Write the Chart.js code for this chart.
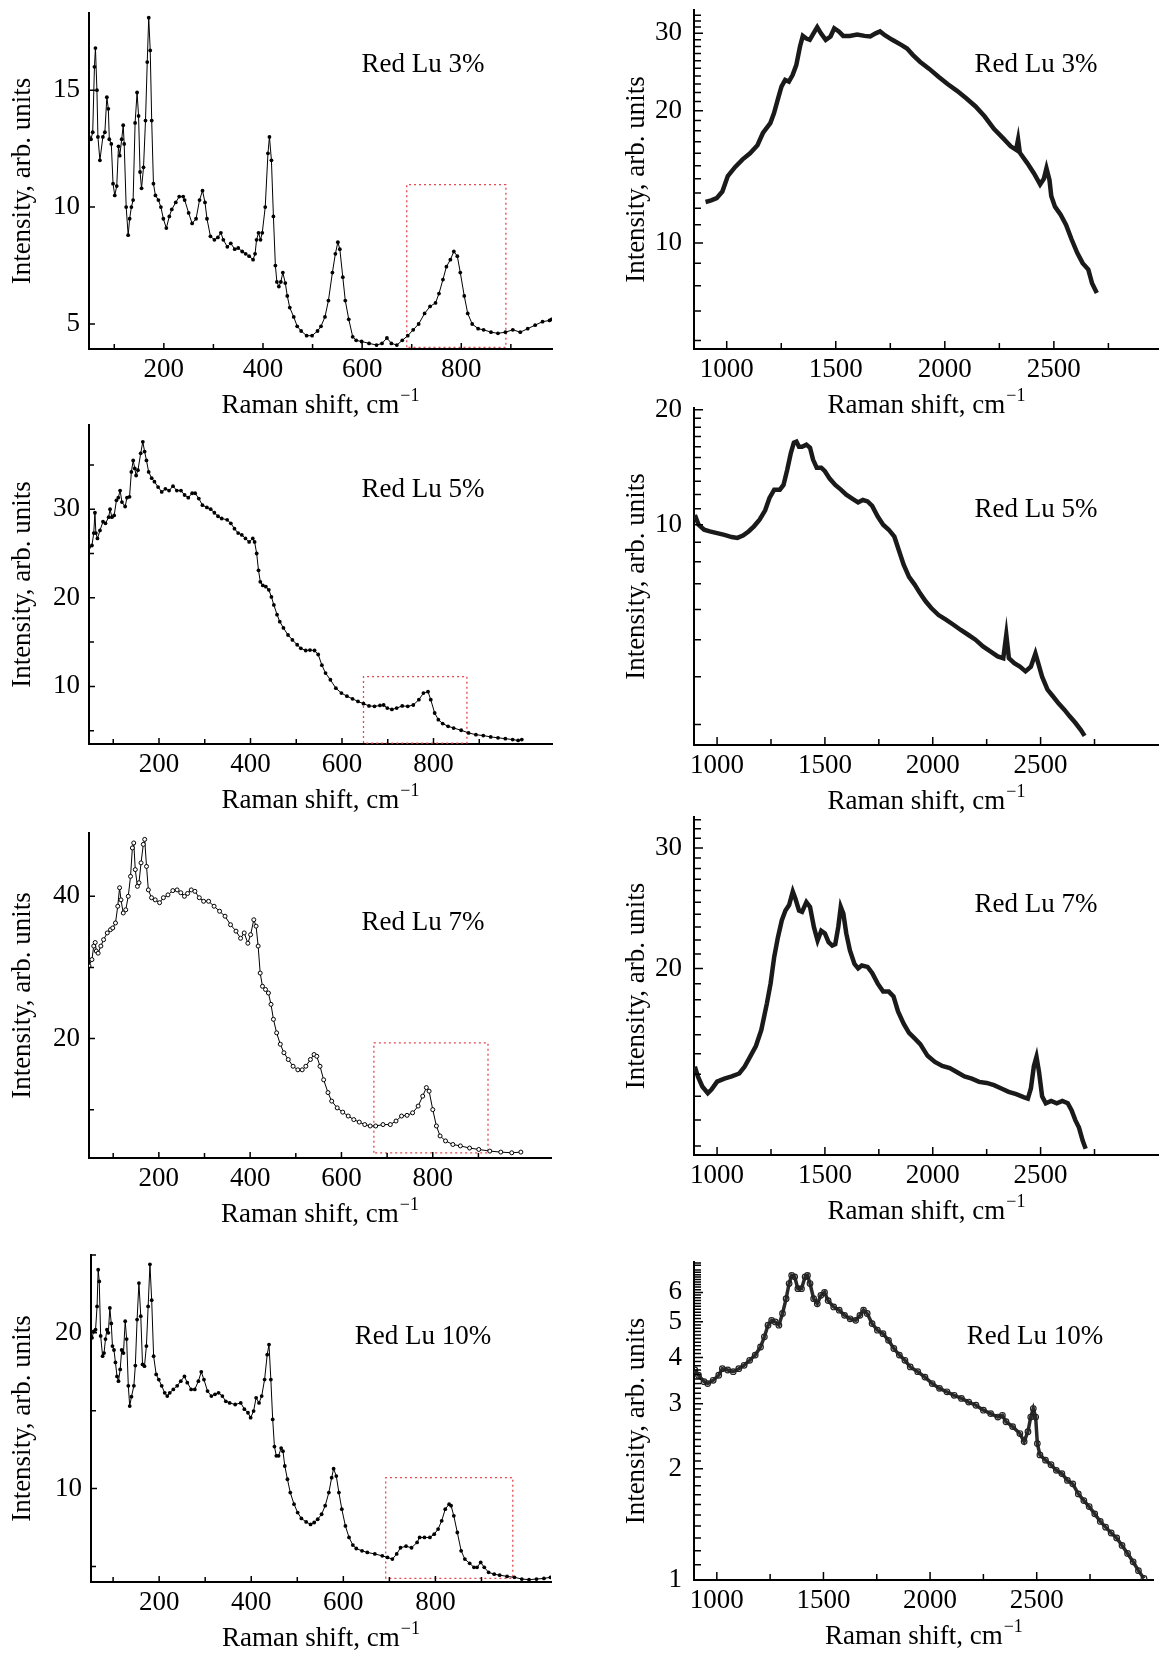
<!DOCTYPE html>
<html>
<head>
<meta charset="utf-8">
<script src="https://cdn.jsdelivr.net/npm/chart.js@4.4.1/dist/chart.umd.min.js"></script>
<style>
  html, body { margin: 0; padding: 0; background: #fff; }
  body { width: 1159px; height: 1655px; position: relative; overflow: hidden; }
  canvas { position: absolute; }
</style>
</head>
<body>
<script>
// Raman spectra, [shift cm-1, intensity]
const lu3Low = [[49,13.0],[53,12.9],[56.5,13.2],[60,16.0],[62,16.8],[65,15.0],[67,13.0],[71,12.0],[77,13.0],[81,13.2],[85,14.7],[88,14.2],[90,12.9],[94,12.7],[97.5,11.0],[101,10.5],[105,10.9],[108.5,12.6],[111,12.2],[115,12.9],[118,13.5],[120,12.7],[124,10.0],[128,8.8],[131,9.5],[134.5,10.0],[138,10.3],[142,13.6],[146,14.9],[149,13.9],[152,11.5],[155,10.8],[159,11.7],[163,13.7],[166.5,16.2],[169.5,18.1],[172.5,16.7],[175.5,13.7],[179,11.0],[183,10.5],[189,10.3],[194,10.0],[199,9.5],[205,9.1],[211,9.6],[216,9.9],[224,10.2],[231,10.45],[239,10.45],[242,10.3],[250,9.75],[257,9.3],[265,9.5],[272,10.3],[278,10.7],[283,10.2],[287,9.5],[294,8.75],[302,8.6],[309,8.7],[315,8.9],[320,8.6],[328,8.3],[335,8.45],[343,8.2],[350,8.25],[358,8.1],[365,8.0],[372,7.9],[380,7.75],[384,8.0],[387,8.6],[391,8.9],[395,8.6],[398.5,8.9],[404.5,10.0],[410,12.3],[413,13.0],[417,12.0],[421,9.6],[425,7.5],[428,6.8],[432,6.6],[436,6.8],[440,7.2],[445,6.75],[449,6.2],[454,5.7],[462,5.3],[469,4.9],[477,4.7],[488,4.5],[499,4.5],[510,4.7],[517,4.9],[525,5.3],[532,6.0],[540,7.2],[546,8.0],[551,8.5],[555,8.2],[561,7.0],[566,6.0],[573,5.2],[581,4.45],[588,4.3],[599,4.25],[614,4.17],[629,4.1],[640,4.17],[650,4.4],[659,4.17],[670,4.1],[681,4.3],[692,4.5],[703,4.75],[714,5.0],[726,5.45],[737,5.75],[748,5.9],[755,6.3],[763,6.9],[770,7.45],[778,7.75],[785,8.1],[792,7.9],[798,7.2],[806,6.2],[813,5.45],[822,5.0],[834,4.8],[845,4.75],[860,4.65],[874,4.6],[889,4.65],[904,4.75],[919,4.65],[934,4.8],[949,4.95],[964,5.1],[978,5.15],[982,5.2]];

const lu3High = [[903,12.4],[929,12.5],[954,12.65],[980,13.1],[1005,14.2],[1039,14.9],[1073,15.5],[1107,16.0],[1141,16.7],[1166,17.8],[1200,18.75],[1217,19.75],[1234,21.2],[1251,22.7],[1268,23.5],[1285,23.3],[1302,24.1],[1319,25.4],[1336,28.0],[1349,29.6],[1365,29.2],[1381,29.0],[1398,30.0],[1415,31.0],[1432,30.0],[1454,29.0],[1476,29.5],[1493,30.8],[1514,30.3],[1534,29.6],[1564,29.6],[1598,29.8],[1632,29.6],[1658,29.5],[1683,30.0],[1703,30.3],[1725,29.7],[1759,29.0],[1802,28.2],[1827,27.7],[1853,26.8],[1886,25.85],[1929,24.9],[1971,23.9],[2014,22.97],[2056,22.2],[2098,21.35],[2141,20.45],[2183,19.4],[2225,18.2],[2268,17.3],[2302,16.6],[2327,16.3],[2336,17.2],[2344,16.05],[2378,15.2],[2409,14.4],[2437,13.6],[2454,14.0],[2466,14.8],[2480,13.9],[2488,12.8],[2505,12.1],[2531,11.6],[2556,11.0],[2581,10.2],[2607,9.5],[2632,9.0],[2658,8.7],[2675,8.1],[2697,7.7]];

const lu5Low = [[47,25.7],[53.4,25.9],[57.4,27.3],[60,29.6],[62,27.3],[65.5,26.7],[71,27.6],[77.6,28.6],[83,28.4],[90,29.1],[93,30.0],[97,29.1],[102,29.3],[107,31.0],[111,31.3],[115,32.1],[119,30.8],[126,30.3],[130,31.3],[135.6,31.4],[139.6,34.2],[143.6,35.5],[147,34.6],[150,33.8],[154,34.4],[160,36.3],[164.6,37.6],[168.6,36.5],[172.6,35.5],[177.4,34.2],[184,33.5],[190,33.1],[198,32.5],[206,31.95],[214,32.3],[222,32.1],[230.6,32.6],[239,32.1],[248,32.1],[256,31.6],[264,31.3],[272.5,31.8],[279,31.8],[287,31.2],[295,30.45],[304.7,30.2],[313,30.0],[321,29.6],[329,29.2],[337,28.95],[349,28.8],[357,28.4],[365,27.8],[373,27.3],[381,27.1],[389,26.7],[397,26.3],[405,26.7],[409,26.3],[413.5,25.0],[417.5,23.1],[421.5,21.8],[427,21.4],[433.6,21.25],[440,20.9],[445.7,20.1],[451,19.2],[458,18.1],[464,17.3],[472,16.6],[482,15.8],[491.6,15.25],[502,14.7],[510,14.3],[520.6,14.05],[530,14.1],[540,14.05],[548,13.6],[556,12.4],[564,11.5],[574.6,10.75],[586.6,9.8],[598.7,9.25],[610.8,8.9],[623,8.6],[635,8.3],[647,8.05],[659,7.8],[671,7.75],[683,7.85],[691,7.9],[699,7.55],[709,7.4],[719.5,7.55],[731.6,7.8],[743.7,7.75],[755.8,7.9],[768,8.5],[778,9.25],[788,9.4],[794,8.5],[802.5,7.0],[810.6,6.25],[820,5.8],[832,5.5],[844,5.3],[860.5,5.05],[876.6,4.75],[892.7,4.55],[908.8,4.45],[925,4.3],[941,4.2],[957,4.1],[973,4.0],[985,3.9],[993,4.0]];

const lu5High = [[897,10.6],[914,10.0],[940,9.7],[966,9.6],[1000,9.5],[1034,9.4],[1068,9.28],[1094,9.23],[1120,9.36],[1146,9.6],[1171,9.9],[1197,10.3],[1223,10.9],[1243,11.75],[1265,12.35],[1291,12.35],[1308,12.7],[1325,13.9],[1342,15.4],[1356,16.4],[1368,16.5],[1380,16.0],[1394,16.0],[1414,16.2],[1431,15.9],[1445,14.8],[1462,14.1],[1483,14.1],[1500,13.8],[1522,13.2],[1548,12.7],[1574,12.35],[1599,11.98],[1630,11.67],[1654,11.44],[1676,11.6],[1698,11.5],[1719,11.2],[1745,10.5],[1770,10.0],[1796,9.7],[1822,9.3],[1842,8.6],[1865,7.86],[1890,7.3],[1916,6.97],[1942,6.6],[1967,6.3],[1993,6.05],[2027,5.8],[2061,5.64],[2096,5.47],[2130,5.3],[2164,5.15],[2198,5.0],[2233,4.8],[2267,4.66],[2301,4.52],[2327,4.47],[2341,5.15],[2353,4.47],[2378,4.34],[2404,4.25],[2430,4.13],[2455,4.25],[2476,4.6],[2489,4.34],[2507,4.0],[2532,3.7],[2558,3.55],[2584,3.4],[2610,3.28],[2635,3.15],[2661,3.03],[2687,2.9],[2704,2.8]];

const lu7Low = [[47,30.2],[53.4,31.1],[57.4,33.0],[60.6,33.5],[63,32.3],[67,32.0],[73,33.0],[79,33.9],[87,34.85],[94,35.3],[99,35.55],[105,36.25],[110,38.6],[114,41.2],[117,39.5],[122,37.65],[127.5,38.1],[133,40.0],[138,42.8],[142,46.8],[145,47.5],[148.4,43.75],[153,41.4],[156.5,41.9],[161,44.7],[166,47.3],[169,48.0],[173,44.2],[177,40.9],[184,39.8],[192,39.5],[201.6,39.1],[210,39.8],[220,40.2],[230.6,40.8],[240,40.9],[248,40.5],[256,40.0],[263,40.4],[271,40.9],[279,40.7],[288.6,39.8],[298,39.3],[309,39.3],[321,38.6],[333,37.9],[345,37.2],[357,36.0],[369,35.1],[379,34.1],[387,34.85],[395,33.4],[401,34.6],[408,36.7],[413,35.8],[417.5,33.0],[422,29.2],[427,27.35],[433.6,26.9],[440,26.4],[445.7,24.8],[451,22.7],[458,20.8],[466,19.2],[474,18.0],[483.5,17.05],[494,16.1],[504.5,15.6],[514,15.6],[522,16.1],[532,17.05],[540,17.75],[546,17.5],[553,16.1],[561,14.2],[570.5,12.4],[578.6,11.2],[590.7,10.25],[602.7,9.65],[614.8,9.1],[627,8.6],[639,8.25],[651,7.9],[663,7.7],[675,7.7],[691,7.9],[707,7.9],[719.5,8.4],[731.6,9.1],[743.7,9.2],[755.8,9.55],[768,10.5],[778,11.9],[786,13.1],[792,12.6],[800,10.0],[808,7.7],[816,6.3],[828,5.6],[844,5.1],[860.5,4.9],[880.6,4.6],[900.8,4.4],[925,4.17],[949,4.03],[973,3.93],[993,4.03]];

const lu7High = [[897,14.37],[911,13.9],[931.5,13.44],[957,13.14],[974,13.3],[1000,13.66],[1034,13.8],[1068,13.9],[1103,14.04],[1128,14.37],[1154,14.87],[1180,15.4],[1205,16.25],[1231,17.78],[1248,19.0],[1265,20.8],[1282,22.2],[1300,23.5],[1317,24.3],[1334,24.75],[1351,25.9],[1363,25.3],[1380,24.3],[1394,24.2],[1414,25.0],[1431,24.6],[1449,22.98],[1466,21.97],[1483,22.7],[1500,22.5],[1517,21.85],[1534,21.6],[1548,21.7],[1562,23.0],[1573.5,24.6],[1585.5,24.05],[1599,22.5],[1616,21.25],[1637,20.3],[1654,20.0],[1671,20.2],[1698,20.1],[1719,19.7],[1745,19.0],[1770,18.5],[1796,18.5],[1818,18.2],[1839,17.3],[1865,16.6],[1890,16.1],[1916,15.8],[1942,15.5],[1976,14.9],[2010,14.6],[2044,14.4],[2079,14.3],[2113,14.1],[2147,13.9],[2181,13.8],[2215,13.65],[2250,13.6],[2284,13.5],[2318,13.35],[2352,13.2],[2387,13.1],[2421,12.97],[2441,12.9],[2455,13.35],[2469,14.4],[2481,14.85],[2493,14.1],[2507,13.0],[2524,12.7],[2549,12.8],[2575,12.7],[2601,12.8],[2626,12.7],[2644,12.4],[2661,12.0],[2678,11.7],[2695,11.2],[2709,10.9]];

const lu10Low = [[54.2,19.68],[57.9,20.1],[61.9,20.2],[65.2,21.7],[67.6,24.06],[69.9,23.3],[73,19.8],[77.2,18.5],[80.3,18.7],[83.5,19.6],[86.6,20.2],[89.7,20.0],[92.9,21.6],[96,20.6],[98.6,19.15],[101.9,18.9],[105.1,18.1],[108.5,17.2],[111.7,16.9],[115.4,17.65],[118.6,18.9],[122.5,18.7],[126.3,20.75],[129.4,19.6],[133,16.6],[136.1,15.3],[139.9,15.9],[145.1,16.6],[148.3,17.9],[152.1,20.85],[156.1,23.2],[160.1,21.07],[163.9,17.97],[168.1,17.86],[172.3,19.15],[176.1,21.7],[180,24.4],[183.8,22.1],[188,18.5],[193.6,17.33],[199.2,17.0],[205.5,16.6],[212,16.15],[217.6,15.94],[223.1,16.15],[230.8,16.37],[239.2,16.6],[247,16.9],[254.9,17.2],[261.1,16.8],[269.5,16.37],[277.4,16.37],[285.2,16.9],[291.5,17.5],[297.3,17.0],[305.1,16.26],[313.4,15.94],[321.3,16.05],[329.1,16.15],[337.3,15.94],[344.8,15.6],[353.1,15.5],[365.2,15.4],[377.2,15.5],[385.1,15.1],[392.9,14.87],[398.7,14.55],[405.1,14.98],[410.6,15.83],[416.9,15.5],[422.7,15.94],[429,17.0],[434.7,18.6],[438.6,19.25],[442.6,17.0],[446.6,14.44],[450.4,12.7],[454.5,12.1],[459.3,12.1],[465,12.6],[468.9,12.4],[472.9,11.45],[478.6,10.6],[484.8,9.74],[492.9,9.0],[500.8,8.46],[508.9,8.08],[519.3,7.86],[528.8,7.7],[536.7,7.82],[544.4,8.03],[552.8,8.35],[560.6,8.9],[568.5,9.74],[574.7,10.7],[578.9,11.28],[584.7,10.8],[590.4,9.74],[596.7,8.68],[604.5,7.6],[612.4,6.86],[620.7,6.37],[628.1,6.15],[640.6,6.0],[652.1,5.9],[668.4,5.8],[684.5,5.68],[696,5.58],[706.5,5.47],[715.9,5.8],[724.2,6.2],[736.2,6.3],[748.1,6.2],[760.2,6.54],[765.7,6.86],[776.2,6.86],[788,6.86],[797.4,7.07],[805.8,7.4],[813.6,7.93],[821.4,8.68],[829.8,9.0],[834,8.9],[839.9,8.25],[847.6,7.18],[855.9,6.0],[863.9,5.47],[874.3,5.2],[883.8,4.94],[890.4,4.94],[898.3,5.26],[906.1,4.94],[915.5,4.62],[927.7,4.5],[939.5,4.44],[955.6,4.36],[971.6,4.3],[987.6,4.19],[1003.3,4.15],[1019.5,4.19],[1035.7,4.23],[1049.8,4.3]];

const lu10High = [[897,3.70],[914,3.58],[940,3.44],[957,3.40],[983,3.47],[1009,3.58],[1026,3.73],[1051,3.70],[1077,3.66],[1103,3.73],[1128,3.81],[1154,3.93],[1180,4.06],[1205,4.27],[1223,4.55],[1240,4.89],[1257,5.04],[1274,4.99],[1291,4.89],[1308,5.26],[1325,5.77],[1339,6.34],[1351,6.67],[1365,6.61],[1380,6.14],[1397,6.14],[1414,6.61],[1425,6.67],[1437,6.34],[1454,5.77],[1471,5.59],[1488,5.89],[1505,6.0],[1522,5.7],[1548,5.48],[1574,5.37],[1599,5.2],[1625,5.09],[1651,5.04],[1671,5.2],[1688,5.37],[1705,5.26],[1728,4.94],[1753,4.74],[1779,4.64],[1805,4.45],[1830,4.23],[1856,4.06],[1882,3.93],[1907,3.77],[1942,3.66],[1976,3.54],[2010,3.40],[2044,3.30],[2079,3.23],[2113,3.16],[2147,3.10],[2181,3.03],[2215,2.97],[2250,2.88],[2284,2.82],[2318,2.76],[2339,2.79],[2356,2.68],[2387,2.60],[2421,2.49],[2441,2.37],[2459,2.52],[2472,2.76],[2484,2.91],[2495,2.76],[2503,2.34],[2515,2.18],[2541,2.11],[2567,2.05],[2592,1.98],[2618,1.94],[2644,1.86],[2669,1.82],[2695,1.71],[2721,1.64],[2746,1.58],[2772,1.51],[2798,1.44],[2823,1.39],[2849,1.34],[2875,1.30],[2900,1.24],[2926,1.18],[2952,1.12],[2977,1.06],[3003,1.01]];

// red dotted frames: [x0, x1, yTop, yBottom]
const box3 = [690, 890, 10.96, 4.0];
const box5 = [647, 873, 11.1, 3.6];
const box7 = [671, 921, 19.4, 3.93];
const box10 = [692, 968, 10.7, 4.23];

// tick values
const lowXMajor = [200, 400, 600, 800];
const lowXMinor = [100, 300, 500, 700, 900];
const highXMajor = [1000, 1500, 2000, 2500];
const highXMinor = [1250, 1750, 2250, 2750];
const y3LowMajor = [5, 10, 15];
const y5LowMajor = [10, 20, 30];
const y5LowMinor = [5, 15, 25, 35];
const y7LowMajor = [20, 40];
const y7LowMinor = [10, 30];
const y10LowMajor = [10, 20];
const y10LowMinor = [5, 15, 25];
const y3HighMajor = [10, 20, 30];
const y3HighMinor = [6, 7, 8, 9, 11, 12, 13, 14, 15, 16, 17, 18, 19, 21, 22, 23, 24, 25, 26, 27, 28, 29, 31, 32, 33];
const y5HighMajor = [10, 20];
const y5HighMinor = [3, 4, 5, 6, 7, 8, 9, 11, 12, 13, 14, 15, 16, 17, 18, 19];
const y7HighMajor = [20, 30];
const y7HighMinor = [11, 12, 13, 14, 15, 16, 17, 18, 19, 21, 22, 23, 24, 25, 26, 27, 28, 29, 31, 32, 33];
const y10HighMajor = [1, 2, 3, 4, 5, 6];
const y10HighMinor = [];
for (let k = 11; k <= 72; k++) if (k % 10) y10HighMinor.push(k / 10);

const FONT = '"Liberation Serif", "Times New Roman", serif';
Chart.defaults.font.family = FONT;
Chart.defaults.font.size = 27;
Chart.defaults.color = '#000';

// geo: [canvasLeft, plotLeft, plotRight, plotTop, plotBottom]
const panels = [
  { label: 'Red Lu 3%', data: lu3Low, box: box3, x: [49, 983], y: [3.93, 18.3], log: false,
    xMaj: lowXMajor, xMin: lowXMinor, yMaj: y3LowMajor, yMin: [], style: 'dot',
    geo: [0, 89, 556, 13, 349], at: [423, 65] },
  { label: 'Red Lu 3%', data: lu3High, x: [850, 2982], y: [5.74, 33.9], log: true,
    xMaj: highXMajor, xMin: highXMinor, yMaj: y3HighMajor, yMin: y3HighMinor, style: 'band',
    geo: [600, 694, 1159, 10, 349], at: [1036, 65] },
  { label: 'Red Lu 5%', data: lu5Low, box: box5, x: [47, 1059], y: [3.5, 39.5], log: false,
    xMaj: lowXMajor, xMin: lowXMinor, yMaj: y5LowMajor, yMin: y5LowMinor, style: 'dot',
    geo: [0, 89, 556, 425, 744], at: [423, 490] },
  { label: 'Red Lu 5%', data: lu5High, x: [893, 3049], y: [2.65, 20.2], log: true,
    xMaj: highXMajor, xMin: highXMinor, yMaj: y5HighMajor, yMin: y5HighMinor, style: 'band',
    geo: [600, 694, 1159, 408, 745], at: [1036, 510] },
  { label: 'Red Lu 7%', data: lu7Low, box: box7, x: [47, 1059], y: [3.2, 48.9], log: false,
    xMaj: lowXMajor, xMin: lowXMinor, yMaj: y7LowMajor, yMin: y7LowMinor, style: 'ring',
    geo: [0, 89, 556, 833, 1158], at: [423, 923] },
  { label: 'Red Lu 7%', data: lu7High, x: [893, 3049], y: [10.67, 33.3], log: true,
    xMaj: highXMajor, xMin: highXMinor, yMaj: y7HighMajor, yMin: y7HighMinor, style: 'band',
    geo: [600, 694, 1159, 817, 1155], at: [1036, 905] },
  { label: 'Red Lu 10%', data: lu10Low, box: box10, x: [52, 1051], y: [4.0, 25.0], log: false,
    xMaj: lowXMajor, xMin: lowXMinor, yMaj: y10LowMajor, yMin: y10LowMinor, style: 'dot',
    geo: [0, 91, 555, 1255, 1582], at: [423, 1337] },
  { label: 'Red Lu 10%', data: lu10High, x: [893, 3049], y: [1, 7.25], log: true,
    xMaj: highXMajor, xMin: highXMinor, yMaj: y10HighMajor, yMin: y10HighMinor, style: 'ringBand',
    geo: [600, 694, 1159, 1262, 1580], at: [1035, 1337] }
];

const styles = {
  dot: { borderColor: '#000', borderWidth: 1, pointRadius: 1.9, pointBackgroundColor: '#000', pointBorderWidth: 0 },
  ring: { borderColor: '#000', borderWidth: 1, pointRadius: 2, pointBackgroundColor: '#fff', pointBorderColor: '#000', pointBorderWidth: 1 },
  band: { borderColor: '#1a1a1a', borderWidth: 4.5, pointRadius: 0 },
  ringBand: { borderColor: '#2a2a2a', borderWidth: 3.5, pointRadius: 2.8, pointBackgroundColor: 'rgba(255,255,255,0)', pointBorderColor: '#222', pointBorderWidth: 1.2 }
};

function decor(p, cLeft, cTop, high) {
  const tl = high ? [8, 6, 9, 7] : [6, 5, 6, 5];
  return {
    id: 'decor',
    afterDraw(chart) {
      const { ctx, chartArea: a } = chart;
      const sx = chart.scales.x, sy = chart.scales.y;
      ctx.save();
      ctx.strokeStyle = '#000';
      ctx.lineWidth = 1.5;
      ctx.beginPath();
      const xt = (vals, len) => vals.forEach(v => {
        const q = sx.getPixelForValue(v);
        ctx.moveTo(q, a.bottom); ctx.lineTo(q, a.bottom - len);
      });
      const yt = (vals, len) => vals.forEach(v => {
        const q = sy.getPixelForValue(v);
        ctx.moveTo(a.left, q); ctx.lineTo(a.left + len, q);
      });
      xt(p.xMaj, tl[0]); xt(p.xMin, tl[1]);
      yt(p.yMaj, tl[2]); yt(p.yMin, tl[3]);
      ctx.stroke();

      // x title with superscript
      ctx.fillStyle = '#000';
      ctx.textBaseline = 'middle';
      ctx.textAlign = 'left';
      const base = 'Raman shift, cm', sup = '\u22121';
      ctx.font = '27px ' + FONT;
      const w1 = ctx.measureText(base).width;
      ctx.font = '18px ' + FONT;
      const w2 = ctx.measureText(sup).width;
      const x0 = (a.left + a.right) / 2 - (w1 + w2 + 1) / 2;
      const ty = a.bottom + 57;
      ctx.font = '27px ' + FONT;
      ctx.fillText(base, x0, ty);
      ctx.font = '18px ' + FONT;
      ctx.fillText(sup, x0 + w1 + 1, ty - 10);

      // panel label
      ctx.font = '27px ' + FONT;
      ctx.textAlign = 'center';
      ctx.fillText(p.label, p.at[0] - cLeft, p.at[1] - cTop);
      ctx.restore();
    }
  };
}

panels.forEach(p => {
  const [cLeft, left, right, top, bottom] = p.geo;
  const cTop = top - 30;
  const high = cLeft > 0;
  const cv = document.createElement('canvas');
  cv.width = right - cLeft;
  cv.height = bottom + 75 - cTop;
  cv.style.left = cLeft + 'px';
  cv.style.top = cTop + 'px';
  document.body.appendChild(cv);

  const datasets = [Object.assign({
    data: p.data.map(([x, y]) => ({ x, y })),
    showLine: true, tension: 0, order: 1
  }, styles[p.style])];

  if (p.box) {
    const [x0, x1, yt, yb] = p.box;
    datasets.push({
      data: [{ x: x0, y: yb }, { x: x0, y: yt }, { x: x1, y: yt }, { x: x1, y: yb }, { x: x0, y: yb }],
      showLine: true, borderColor: '#e5484d', borderWidth: 1.3, borderDash: [2, 3],
      pointRadius: 0, order: 2
    });
  }

  const tickFont = { family: FONT, size: 27 };

  new Chart(cv, {
    type: 'scatter',
    data: { datasets },
    options: {
      responsive: false,
      animation: false,
      events: [],
      layout: { padding: { top: 30, right: 0, left: 0, bottom: 0 } },
      plugins: { legend: { display: false }, tooltip: { enabled: false } },
      scales: {
        x: {
          type: 'linear', position: 'bottom',
          min: p.x[0], max: p.x[1],
          grid: { display: false, drawTicks: false },
          border: { display: true, color: '#000', width: 2 },
          afterBuildTicks: s => { s.ticks = p.xMaj.map(v => ({ value: v })); },
          afterFit: s => { s.height = 75; },
          ticks: { padding: 5, autoSkip: false, maxRotation: 0, font: tickFont, color: '#000', callback: v => String(v) }
        },
        y: {
          type: p.log ? 'logarithmic' : 'linear', position: 'left',
          min: p.y[0], max: p.y[1],
          grid: { display: false, drawTicks: false },
          border: { display: true, color: '#000', width: 2 },
          afterBuildTicks: s => { s.ticks = p.yMaj.map(v => ({ value: v })); },
          afterFit: s => { s.width = left - cLeft; },
          ticks: { padding: high ? 12 : 9, autoSkip: false, font: tickFont, color: '#000', callback: v => String(v) },
          title: {
            display: true, text: 'Intensity, arb. units', color: '#000', font: tickFont,
            padding: { top: high ? 21 : 7, bottom: 0 }
          }
        }
      }
    },
    plugins: [decor(p, cLeft, cTop, high)]
  });
});
</script>
</body>
</html>
